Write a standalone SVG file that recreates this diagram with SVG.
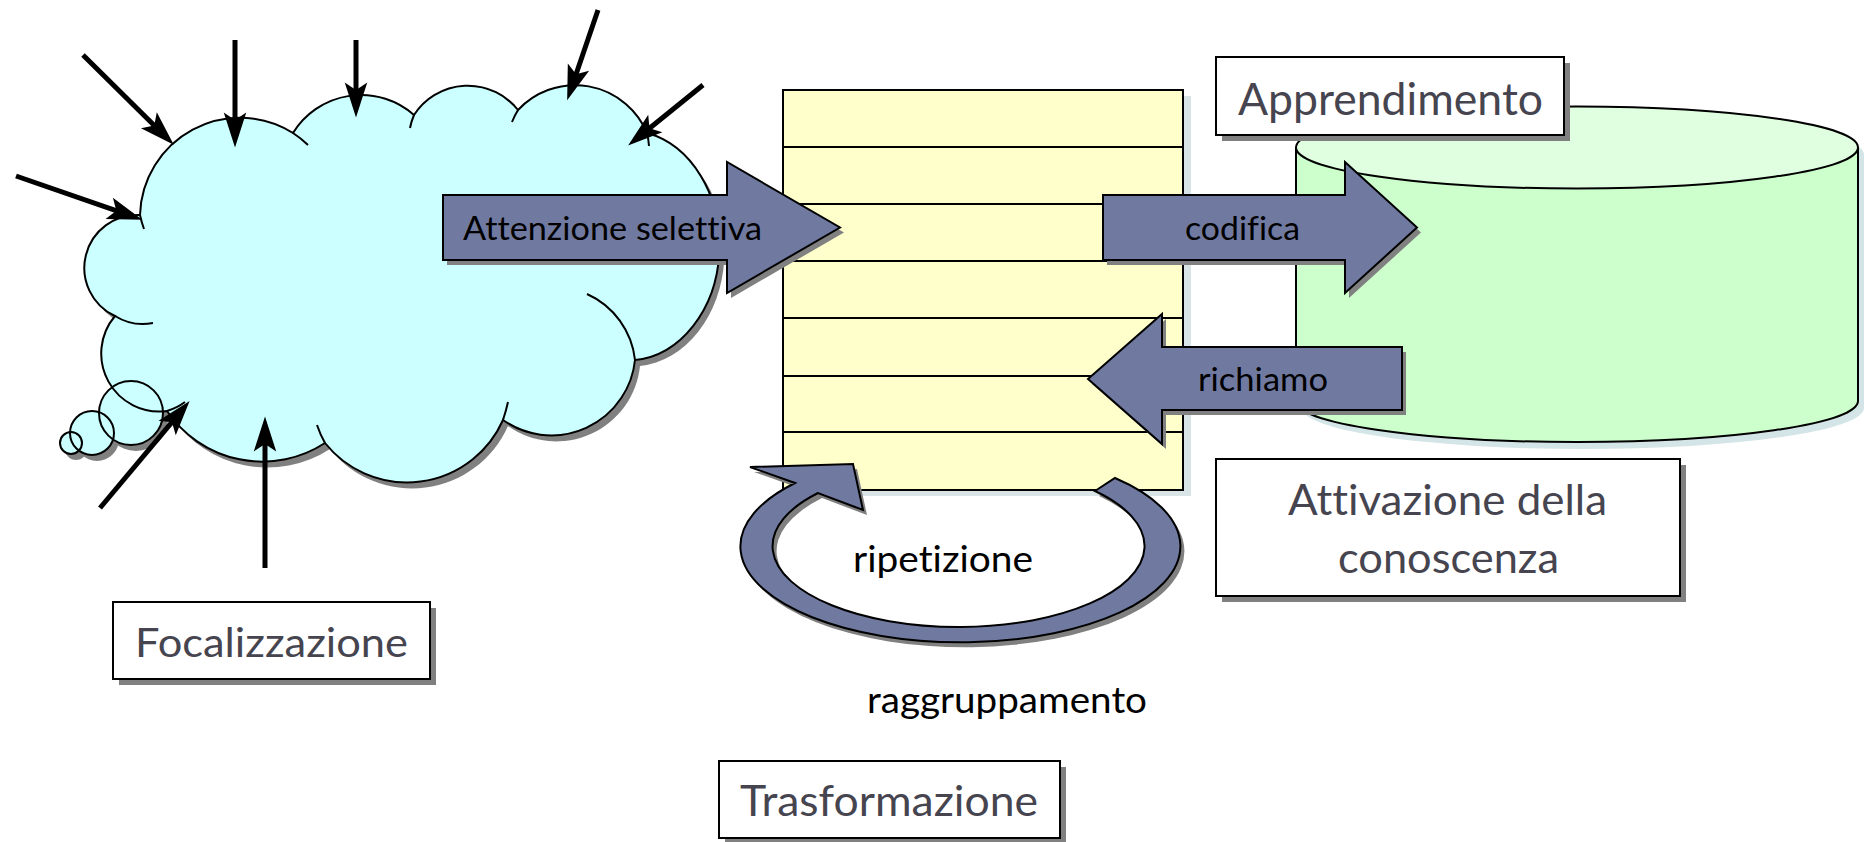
<svg xmlns="http://www.w3.org/2000/svg" width="1866" height="842" viewBox="0 0 1866 842">
<defs>
<style>
.ln{stroke:#000;stroke-width:2;fill:none}
.sh{fill:#808080}
.blue{fill:#707aa1;stroke:#000;stroke-width:2;stroke-linejoin:miter}
.box{fill:#fff;stroke:#000;stroke-width:2}
.lbl{font-family:Lato,"Open Sans","DejaVu Sans",sans-serif;fill:#46454f;font-variant-ligatures:none}
.atx{font-family:Lato,"Open Sans","DejaVu Sans",sans-serif;fill:#000;font-variant-ligatures:none}
.in{stroke:#000;stroke-width:5;fill:none}
</style>
<marker id="ah" markerUnits="userSpaceOnUse" orient="auto" refX="0" refY="0" markerWidth="40" markerHeight="40" viewBox="-20 -12 32 24" overflow="visible">
<path d="M10,0 L-18,-9 L-12,0 L-18,9 Z" fill="#000"/>
</marker>
<path id="cloudPath" d="M140,215 A100,100 0 0 1 293,133 A80,80 0 0 1 414,115 A64,64 0 0 1 518,110 A78,78 0 0 1 647,133 A92,115 0 0 1 635,360 A84,84 0 0 1 503,420 A105,105 0 0 1 325,443 A115,115 0 0 1 167,411 A58,58 0 0 1 115,316 A53,53 0 0 1 140,215 Z"/>
</defs>
<rect width="1866" height="842" fill="#fff"/>

<g id="cloud">
<g transform="translate(5,6)" class="sh">
<use href="#cloudPath"/>
<circle cx="131" cy="413" r="32"/><circle cx="92" cy="433" r="22"/><circle cx="71" cy="443" r="11"/>
</g>
<g fill="#ccffff">
<use href="#cloudPath"/>
<circle cx="131" cy="413" r="32"/><circle cx="92" cy="433" r="22"/><circle cx="71" cy="443" r="11"/>
</g>
<g class="ln">
<use href="#cloudPath"/>
<circle cx="131" cy="413" r="32"/><circle cx="92" cy="433" r="22"/><circle cx="71" cy="443" r="11"/>
<path d="M140,215 A100,100 0 0 0 144,229"/>
<path d="M293,133 A100,100 0 0 1 308,145"/>
<path d="M414,115 A64,64 0 0 0 410,128"/>
<path d="M518,110 A78,78 0 0 0 512,122"/>
<path d="M647,133 A78,78 0 0 1 649,146"/>
<path d="M635,360 A82,82 0 0 0 587,294"/>
<path d="M503,420 Q506,411 508,402"/>
<path d="M325,443 A105,105 0 0 1 317,425"/>
<path d="M167,411 A58,58 0 0 0 185,402"/>
<path d="M115,316 A53,53 0 0 0 153,323"/>
</g>
</g>

<g id="stack">
<rect x="791" y="96" width="400" height="400" fill="#d9e4e6"/>
<rect x="783" y="90" width="400" height="400" fill="#ffffcc" stroke="#000" stroke-width="2"/>
<path class="ln" d="M783,147H1183M783,204H1183M783,261H1183M783,318H1183M783,376H1183M783,432H1183"/>
</g>

<g id="cylinder">
<path transform="translate(6,7)" fill="#d3e5e6" d="M1296,147.5 L1296,401 A281,41 0 0 0 1858,401 L1858,147.5 A281,41 0 0 0 1296,147.5 Z"/>
<path fill="#ccffcc" stroke="#000" stroke-width="2" d="M1296,147.5 L1296,401 A281,41 0 0 0 1858,401 L1858,147.5"/>
<ellipse cx="1577" cy="147.5" rx="281" ry="41" fill="#e0ffe0" stroke="#000" stroke-width="2"/>
</g>

<g id="connectors">
<line class="in" x1="83" y1="55" x2="164.9" y2="136" marker-end="url(#ah)"/>
<line class="in" x1="16" y1="176" x2="130.5" y2="215.7" marker-end="url(#ah)"/>
<line class="in" x1="235" y1="40" x2="235" y2="135" marker-end="url(#ah)"/>
<line class="in" x1="356" y1="40" x2="356" y2="105" marker-end="url(#ah)"/>
<line class="in" x1="598" y1="10" x2="571.2" y2="88.5" marker-end="url(#ah)"/>
<line class="in" x1="703" y1="85" x2="637.8" y2="137.7" marker-end="url(#ah)"/>
<line class="in" x1="100" y1="508" x2="181.6" y2="410.7" marker-end="url(#ah)"/>
<line class="in" x1="265" y1="568" x2="265" y2="429" marker-end="url(#ah)"/>
</g>

<g id="arrow-attenzione">
<path class="sh" transform="translate(4,5)" d="M443,195 L727,195 L727,162 L840,227.5 L727,293 L727,260 L443,260 Z"/>
<path class="blue" d="M443,195 L727,195 L727,162 L840,227.5 L727,293 L727,260 L443,260 Z"/>
<text class="atx" x="463" y="240" font-size="33" textLength="299" lengthAdjust="spacingAndGlyphs">Attenzione selettiva</text>
</g>

<g id="arrow-codifica">
<path class="sh" transform="translate(4,5)" d="M1103,195 L1345,195 L1345,162 L1417,227.5 L1345,293 L1345,260 L1103,260 Z"/>
<path class="blue" d="M1103,195 L1345,195 L1345,162 L1417,227.5 L1345,293 L1345,260 L1103,260 Z"/>
<text class="atx" x="1185" y="240" font-size="33" textLength="115" lengthAdjust="spacingAndGlyphs">codifica</text>
</g>

<g id="arrow-richiamo">
<path class="sh" transform="translate(4,5)" d="M1402,347 L1162,347 L1162,314 L1088,379 L1162,444 L1162,410 L1402,410 Z"/>
<path class="blue" d="M1402,347 L1162,347 L1162,314 L1088,379 L1162,444 L1162,410 L1402,410 Z"/>
<text class="atx" x="1198" y="391" font-size="33" textLength="130" lengthAdjust="spacingAndGlyphs">richiamo</text>
</g>

<g id="loop-ripetizione">
<path class="sh" transform="translate(4,5)" d="M1115,478 A220,96 0 1 1 795,483 L750,467 L853,464 L863,510 L818,493 A186,81 0 1 0 1095,491 Z"/>
<path class="blue" d="M1115,478 A220,96 0 1 1 795,483 L750,467 L853,464 L863,510 L818,493 A186,81 0 1 0 1095,491 Z"/>
<text class="atx" x="853" y="572" font-size="37" textLength="180" lengthAdjust="spacingAndGlyphs">ripetizione</text>
</g>

<g id="label-raggruppamento">
<text class="atx" x="867" y="713" font-size="37" textLength="280" lengthAdjust="spacingAndGlyphs">raggruppamento</text>
</g>

<g id="box-apprendimento">
<rect class="sh" x="1222" y="63" width="348" height="78"/>
<rect class="box" x="1216" y="57" width="348" height="78"/>
<text class="lbl" x="1238" y="115" font-size="44" textLength="305" lengthAdjust="spacingAndGlyphs">Apprendimento</text>
</g>

<g id="box-attivazione">
<rect class="sh" x="1222" y="465" width="464" height="137"/>
<rect class="box" x="1216" y="459" width="464" height="137"/>
<text class="lbl" x="1288" y="515" font-size="42" textLength="319" lengthAdjust="spacingAndGlyphs">Attivazione della</text>
<text class="lbl" x="1338" y="573" font-size="42" textLength="221" lengthAdjust="spacingAndGlyphs">conoscenza</text>
</g>

<g id="box-focalizzazione">
<rect class="sh" x="119" y="608" width="317" height="77"/>
<rect class="box" x="113" y="602" width="317" height="77"/>
<text class="lbl" x="135" y="657" font-size="40" textLength="273" lengthAdjust="spacingAndGlyphs">Focalizzazione</text>
</g>

<g id="box-trasformazione">
<rect class="sh" x="725" y="767" width="341" height="77"/>
<rect class="box" x="719" y="761" width="341" height="77"/>
<text class="lbl" x="740" y="816" font-size="42" textLength="298" lengthAdjust="spacingAndGlyphs">Trasformazione</text>
</g>
</svg>
